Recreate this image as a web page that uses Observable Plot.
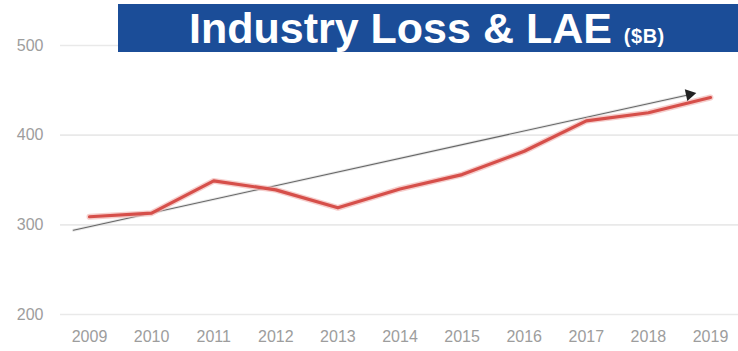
<!DOCTYPE html>
<html>
<head>
<meta charset="utf-8">
<script src="https://cdn.jsdelivr.net/npm/d3@7"></script>
<script src="https://cdn.jsdelivr.net/npm/@observablehq/plot@0.6"></script>
<style>
  html, body { margin: 0; padding: 0; background: #fff; }
  #wrap { position: relative; width: 738px; height: 351px; overflow: hidden; }
  #title {
    position: absolute; left: 118px; top: 4px; width: 620px; height: 48px;
    background: #1b4d98; color: #fff;
    font-family: "Liberation Sans", Arial, sans-serif; font-weight: bold;
    font-size: 43px; line-height: 48px; white-space: nowrap;
    box-sizing: border-box; padding-left: 71px;
  }
  #title .unit { font-size: 20px; letter-spacing: 0.5px; }
</style>
</head>
<body>
<div id="wrap">
  <div id="chart"></div>
  <div id="title">Industry Loss &amp; LAE <span class="unit">($B)</span></div>
</div>
<script>
// Industry Loss & LAE ($B)
const years = [2009, 2010, 2011, 2012, 2013, 2014, 2015, 2016, 2017, 2018, 2019];
const lossLAE = [309, 313, 349, 339, 319, 340, 356, 382, 416, 425, 442];
const yTicks = [200, 300, 400, 500];
// trend arrow: start and end (year position, value)
const trendX = [2008.74, 2018.71];
const trendY = [294, 446];

const series = years.map((y, i) => ({year: y, value: lossLAE[i]}));
const trend = trendX.map((x, i) => ({x, y: trendY[i]}));

const plot = Plot.plot({
  width: 738,
  height: 351,
  marginLeft: 60,
  marginRight: 0,
  marginTop: 45,
  marginBottom: 37,
  style: {fontFamily: "'Liberation Sans', Arial, sans-serif", fontSize: "16px", color: "#9a9a9a", background: "transparent"},
  x: {domain: [2008.533, 2019.451], ticks: years, tickFormat: d => String(d), label: null},
  y: {domain: [200, 500], ticks: yTicks, label: null},
  marks: [
    Plot.ruleY(yTicks, {stroke: "#e9e9e9", strokeWidth: 1.6}),
    Plot.axisX({ticks: years, tickFormat: d => String(d), tickSize: 0, tickPadding: 16, fill: "#9d9d9d", fontSize: 16, letterSpacing: "1.2px", label: null}),
    Plot.axisY({ticks: yTicks, tickSize: 0, tickPadding: 17, fill: "#9d9d9d", fontSize: 16, letterSpacing: "1.2px", label: null}),
    Plot.line(trend, {x: "x", y: "y", stroke: "#d8d8d8", strokeWidth: 3, strokeOpacity: 0.6}),
    Plot.line(trend, {x: "x", y: "y", stroke: "#666666", strokeWidth: 1.1}),
    Plot.line(series, {x: "year", y: "value", stroke: "#f2b9b6", strokeWidth: 6, strokeOpacity: 0.7, strokeLinejoin: "round"}),
    Plot.line(series, {x: "year", y: "value", stroke: "#d64f4a", strokeWidth: 3.2, strokeLinejoin: "round", strokeLinecap: "round"}),
    Plot.dot(trend.slice(1), {x: "x", y: "y", symbol: "triangle", r: 4.5, fill: "#222", stroke: "none", rotate: 78, dx: -3, dy: 0.5})
  ]
});
document.getElementById("chart").appendChild(plot);
</script>
</body>
</html>
